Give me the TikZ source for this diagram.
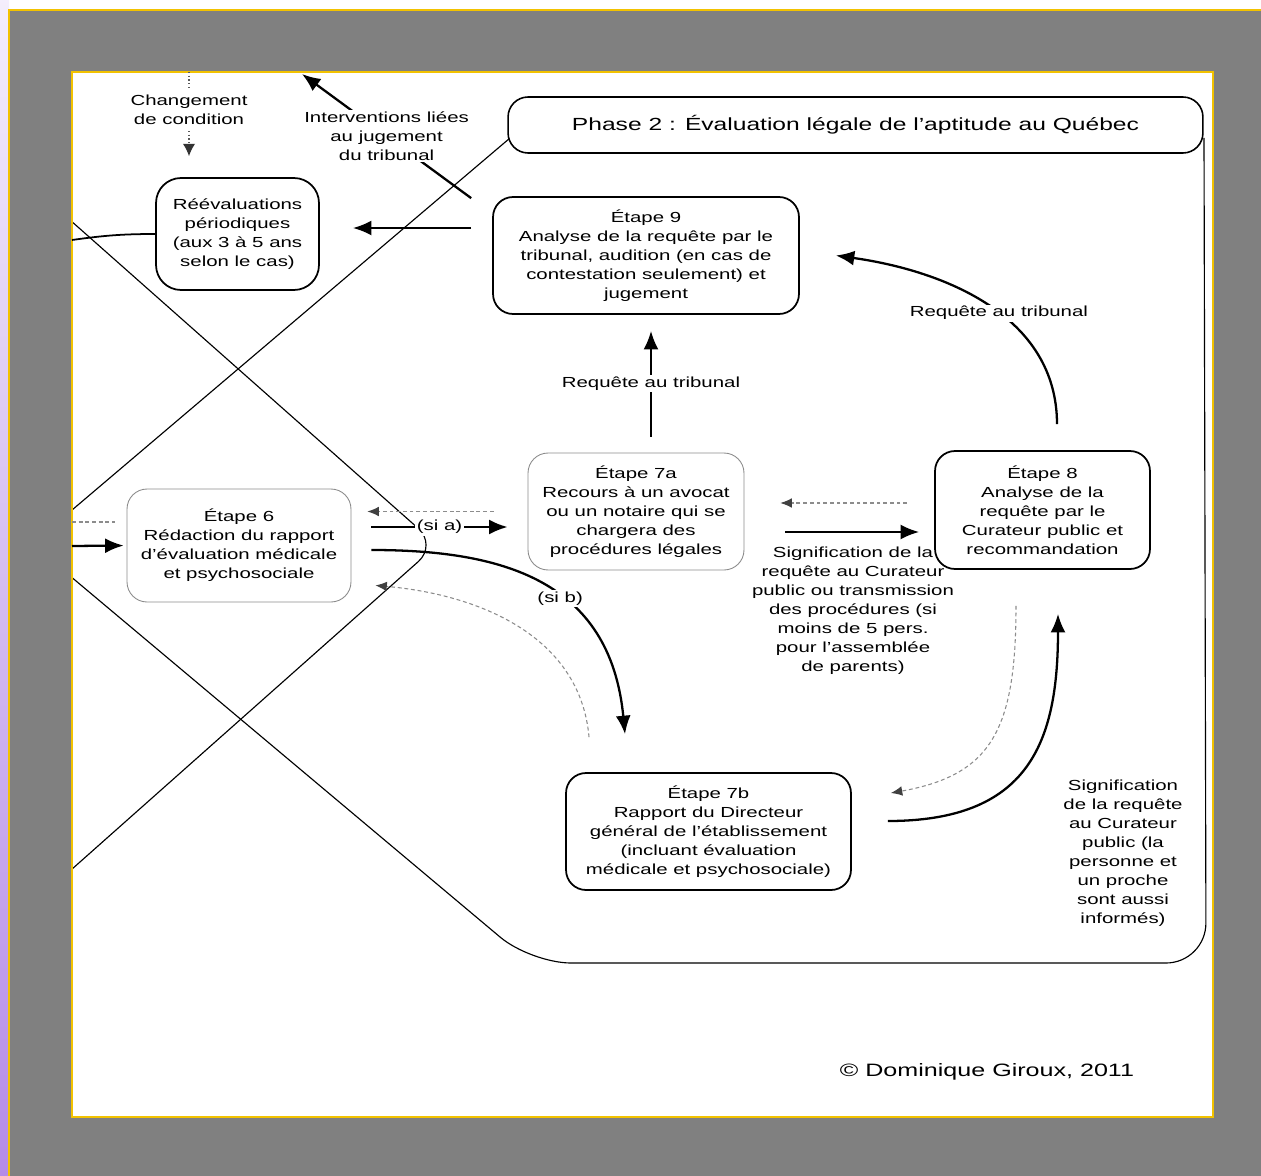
\documentclass[tikz,border=0pt]{standalone}
\usepackage{fontspec}
\setmainfont{Liberation Sans}[FakeStretch=1.4]
\usepackage{tikz}
\usetikzlibrary{arrows.meta}
\tikzset{>=latex}

\definecolor{fond}{HTML}{808080}
\definecolor{jaune}{HTML}{F2C200}
\definecolor{lavande}{HTML}{B48BE8}
\definecolor{gristrait}{HTML}{8C8C8C}

\newcommand{\fontpetit}{\fontsize{8.3}{10.8}\selectfont}
\newcommand{\fonttitre}{\fontsize{10}{12}\selectfont}
\newcommand{\fontsign}{\fontsize{10.2}{12}\selectfont}

\tikzset{
  boite/.style={draw, line width=1pt, rounded corners=.4cm, fill=white, align=center, inner sep=0pt},
  boiteclaire/.style={boite, draw=gristrait, line width=.5pt},
  cadre/.style={line width=.65pt},
  fleche/.style={line width=1.3pt, -{Latex[length=10.5pt,width=8.5pt]}},
  tirets/.style={draw=gristrait, line width=.6pt, dash pattern=on 2.2pt off 1.6pt, -{Latex[length=6.5pt,width=5.5pt,color=black!75]}},
  pointille/.style={draw=black!65, line width=.7pt, dash pattern=on .7pt off 1.4pt},
  etiq/.style={fill=white, inner sep=1pt, align=center}
}

\begin{document}
\begin{tikzpicture}[x=0.02cm, y=0.02cm, font=\fontpetit]
  \useasboundingbox (0,0) rectangle (1261,-1176);
  % fond de la diapositive
  \fill[white] (0,0) rectangle (1261,-1176);
  \shade[top color=lavande!15, bottom color=lavande] (0,0) rectangle (9,-1176);
  \fill[fond] (9,-10) rectangle (1261,-1176);
  \draw[jaune, line width=1.3pt] (9,-1176) -- (9,-10) -- (1261,-10);
  \fill[white] (72,-72) rectangle (1213,-1117);

  % cadre de la phase 2 et losange
  \begin{scope}
    \clip (72,-72) rectangle (1213,-1117);
    \draw[cadre, rounded corners=.5cm] (0,-158) -- (437,-545) -- (0,-933);
    \draw[cadre, rounded corners=.8cm] (543,-110) -- (32,-544) -- (531,-963) -- (1206,-963) -- (1204,-138);
  \end{scope}
  \draw[jaune, line width=1.4pt] (72,-72) rectangle (1213,-1117);

  % etapes
  \node[boite, line width=.9pt, minimum width=13.9cm, minimum height=1.12cm, font=\fonttitre] (titre) at (855.5,-125) {Phase 2 : Évaluation légale de l’aptitude au Québec};
  \node[boite, rounded corners=.5cm, minimum width=3.26cm, minimum height=2.24cm] (reeval) at (237.5,-234) {Réévaluations\\périodiques\\(aux 3 à 5 ans\\selon le cas)};
  \node[boite, minimum width=6.12cm, minimum height=2.34cm] (etape9) at (646,-255.5) {Étape 9\\Analyse de la requête par le\\tribunal, audition (en cas de\\contestation seulement) et\\jugement};
  \node[boiteclaire, minimum width=4.32cm, minimum height=2.34cm] (etape7a) at (636,-511.5) {Étape 7a\\Recours à un avocat\\ou un notaire qui se\\chargera des\\procédures légales};
  \node[boite, minimum width=4.3cm, minimum height=2.36cm] (etape8) at (1042.5,-510) {Étape 8\\Analyse de la\\requête par le\\Curateur public et\\recommandation};
  \node[boiteclaire, minimum width=4.48cm, minimum height=2.26cm] (etape6) at (239,-545.5) {Étape 6\\Rédaction du rapport\\d'évaluation médicale\\et psychosociale};
  \node[boite, minimum width=5.7cm, minimum height=2.34cm] (etape7b) at (708.5,-831.5) {Étape 7b\\Rapport du Directeur\\général de l'établissement\\(incluant évaluation\\médicale et psychosociale)};

  \node[align=center] (chgt) at (189,-110) {Changement\\de condition};
  \node[align=center] (sig1) at (853,-611) {Signification de la\\requête au Curateur\\public ou transmission\\des procédures (si\\moins de 5 pers.\\pour l'assemblée\\de parents)};
  \node[align=center] (sig2) at (1123,-853) {Signification\\de la requête\\au Curateur\\public (la\\personne et\\un proche\\sont aussi\\informés)};
  \node[font=\fontsign] (signature) at (987,-1072) {© Dominique Giroux, 2011};

  % bords de page
  \coordinate (haut) at (189,-72);
  \coordinate (jug) at (302,-74);
  \coordinate (gauche1) at (72,-240);
  \coordinate (gauche6) at (72,-546);
  \coordinate (gauche6b) at (72,-522);

  % liens
  \draw[pointille] (haut) -- (chgt);
  \draw[pointille, -{Latex[length=7pt,width=7pt,color=black!80]}, shorten >=.42cm] (chgt) -- (chgt |- reeval.north);
  \draw[line width=1pt] (reeval.west) to[out=180,in=8] (gauche1);
  \draw[fleche] ([xshift=-.42cm,yshift=-.04cm]etape9.north west) -- node[etiq]{Interventions liées\\au jugement\\du tribunal} (jug);
  \draw[fleche, shorten <=.42cm, shorten >=.66cm] ([yshift=.55cm]etape9.west) -- ([yshift=.55cm]etape9.west -| reeval.east);

  \draw[fleche, shorten <=.32cm, shorten >=.32cm] ([xshift=.3cm]etape7a.north) -- node[etiq]{Requête au tribunal} ([xshift=.3cm]etape7a.north |- etape9.south);
  \draw[fleche] ([xshift=.29cm,yshift=.52cm]etape8.north) to[out=90,in=-8] node[etiq, pos=.45]{Requête au tribunal} ([xshift=.72cm]etape9.east);

  \draw[tirets, shorten <=.54cm, shorten >=.72cm] ([yshift=.14cm]etape8.west) -- ([yshift=.14cm]etape8.west -| etape7a.east);
  \draw[fleche, shorten <=.82cm, shorten >=.3cm] ([yshift=-.41cm]etape7a.east) -- ([yshift=-.41cm]etape7a.east -| etape8.west);

  \draw[fleche, shorten >=.06cm] (gauche6) -- (etape6.west);
  \draw[tirets, -, shorten >=.24cm] (gauche6b) -- (gauche6b -| etape6.west);
  \draw[tirets, shorten <=.68cm, shorten >=.32cm] (etape7a.west) -- (etape7a.west -| etape6.east);
  \draw[fleche, shorten <=.4cm, shorten >=.4cm] ([yshift=.37cm]etape6.east) -- node[etiq]{(si a)} ([yshift=.37cm]etape6.east -| etape7a.west);
  \draw[fleche, shorten <=.4cm] ([yshift=-.09cm]etape6.east) .. controls +(2.98cm,0) and +(-.3cm,3.1cm) .. ([xshift=-1.67cm,yshift=.76cm]etape7b.north) node[etiq, pos=.58]{(si b)};
  \draw[tirets] ([xshift=-2.39cm,yshift=.7cm]etape7b.north) to[out=95,in=-5] ([xshift=.48cm,yshift=.34cm]etape6.south east);

  \draw[fleche] ([xshift=.72cm,yshift=.21cm]etape7b.east) .. controls +(2.8cm,0) and +(0,-2.6cm) .. ([xshift=.31cm,yshift=-.88cm]etape8.south);
  \draw[tirets] ([xshift=-.53cm,yshift=-.72cm]etape8.south) .. controls +(0,-2.5cm) and +(2cm,.36cm) .. ([xshift=.78cm,yshift=.77cm]etape7b.east);
\end{tikzpicture}
\end{document}
